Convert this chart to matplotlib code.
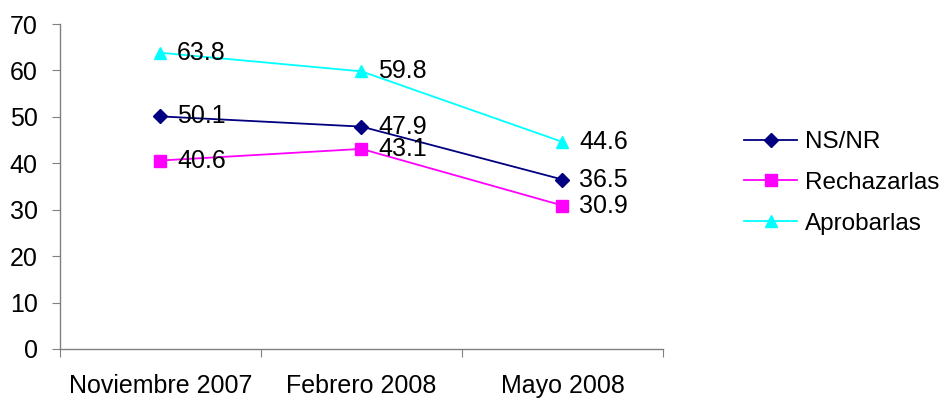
import matplotlib.pyplot as plt

plt.rcParams['font.family'] = ['Liberation Sans', 'DejaVu Sans']

categories = ["Noviembre 2007", "Febrero 2008", "Mayo 2008"]
ns_nr = [50.1, 47.9, 36.5]
rechazarlas = [40.6, 43.1, 30.9]
aprobarlas = [63.8, 59.8, 44.6]

series = [
    ("NS/NR", ns_nr, "#000080", "D"),
    ("Rechazarlas", rechazarlas, "#FF00FF", "s"),
    ("Aprobarlas", aprobarlas, "#00FFFF", "^"),
]

fig = plt.figure(figsize=(9.45, 4), dpi=100)
ax = fig.add_axes([60 / 945, 1 - 349 / 400, (663 - 60) / 945, (349 - 24) / 400])

x = list(range(len(categories)))
for name, vals, color, marker in series:
    ms = 7 if marker == "D" else 8
    ax.plot(x, vals, color=color, marker=marker, markersize=ms, linewidth=1.3, label=name)
    for xi, v in zip(x, vals):
        ax.annotate(f"{v:.1f}", (xi, v), xytext=(12, 0), textcoords="offset points",
                    va="center", ha="left", fontsize=18, color="black")

ax.set_xlim(-0.5, len(categories) - 0.5)
ax.set_ylim(0, 70)
ax.set_yticks(range(0, 71, 10))
ax.set_xticks([i - 0.5 for i in range(len(categories) + 1)])
ax.set_xticklabels([])
ax.set_xticks(x, minor=True)
ax.set_xticklabels(categories, minor=True)

for s in ["top", "right"]:
    ax.spines[s].set_visible(False)
for s in ["left", "bottom"]:
    ax.spines[s].set_color("#808080")
    ax.spines[s].set_linewidth(1)

ax.tick_params(axis="y", which="major", length=6, color="#808080", labelsize=18, pad=10)
ax.tick_params(axis="x", which="major", length=6, color="#808080")
ax.tick_params(axis="x", which="minor", length=0, labelsize=18, pad=18)

ax.legend(loc="upper left", bbox_to_anchor=(744 / 945, 1 - 131 / 400),
          bbox_transform=fig.transFigure, frameon=False, fontsize=17.5,
          handlelength=2.2, labelspacing=0.78, handletextpad=0.3, borderpad=0,
          borderaxespad=0)

fig.savefig("out.png", dpi=100)
